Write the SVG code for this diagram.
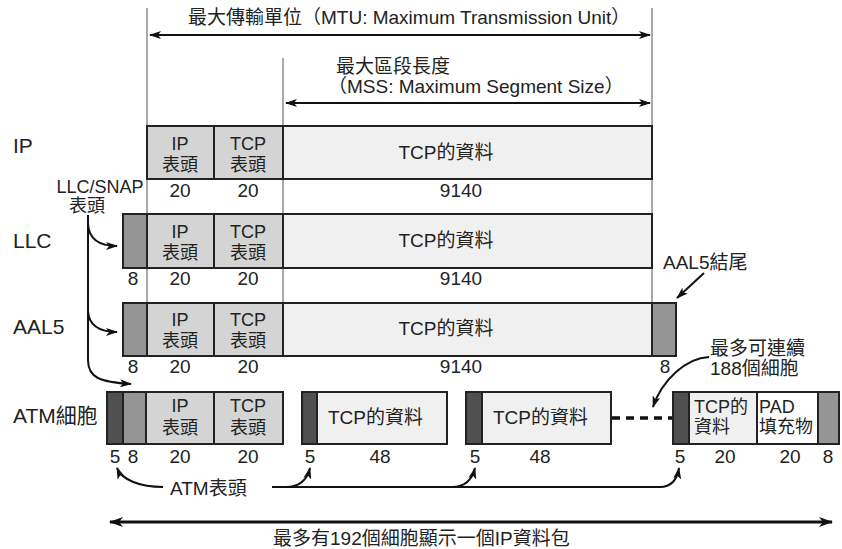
<svg xmlns="http://www.w3.org/2000/svg" width="842" height="549" viewBox="0 0 842 549">
<style>
text{font-family:"Liberation Sans","Noto Sans CJK TC",sans-serif;font-size:18px;fill:#222}
.lbl{font-size:21px}
.big{font-size:19px}
.num{font-size:19px}
.c{text-anchor:middle}
.box{stroke:#222;stroke-width:2}
.hdr{fill:#d4d4d4}
.dat{fill:#f0f0f0}
.dk{fill:#505050}
.md{fill:#959595}
.wh{fill:#fff}
.guide{stroke:#555;stroke-width:1;fill:none}
.ln{stroke:#111;stroke-width:2;fill:none}
</style>
<defs>
<marker id="ah" viewBox="0 0 12 8" refX="11" refY="4" markerWidth="12" markerHeight="8" markerUnits="userSpaceOnUse" orient="auto-start-reverse">
<path d="M0,0 L12,4 L0,8 L3,4 z" fill="#111"/>
</marker>
<marker id="ahb" viewBox="0 0 14 10" refX="13" refY="5" markerWidth="14" markerHeight="10" markerUnits="userSpaceOnUse" orient="auto-start-reverse">
<path d="M0,0 L14,5 L0,10 L4,5 z" fill="#111"/>
</marker>
</defs>

<g id="guides">
<line class="guide" x1="147" y1="8" x2="147" y2="304" stroke="#222"/>
<line class="guide" x1="283" y1="58" x2="283" y2="304"/>
<line class="guide" x1="652" y1="8" x2="652" y2="304"/>
</g>

<g id="mtu">
<text x="188" y="24" class="big">最大傳輸單位（MTU: Maximum Transmission Unit）</text>
</g>
<g id="mss">
<text x="336" y="73" class="big">最大區段長度</text>
<text x="328" y="93" class="big">（MSS: Maximum Segment Size）</text>
</g>

<g id="row-ip">
<text x="13" y="153" class="lbl">IP</text>
<rect class="box hdr" x="147" y="126" width="67" height="53"/>
<rect class="box hdr" x="214" y="126" width="69" height="53"/>
<rect class="box dat" x="283" y="126" width="369" height="53"/>
<text x="180" y="150" class="c">IP</text><text x="180" y="171" class="c">表頭</text>
<text x="248" y="150" class="c">TCP</text><text x="248" y="171" class="c">表頭</text>
<text x="446" y="159" class="c big">TCP的資料</text>
<text x="180" y="197" class="c num">20</text><text x="248" y="197" class="c num">20</text><text x="461" y="197" class="c num">9140</text>
</g>

<g id="llcsnap-label">
<text x="100" y="193" class="c">LLC/SNAP</text>
<text x="87" y="212" class="c">表頭</text>
</g>

<g id="row-llc">
<text x="13" y="248" class="lbl">LLC</text>
<rect class="box md" x="123" y="214" width="24" height="54"/>
<rect class="box hdr" x="147" y="214" width="67" height="54"/>
<rect class="box hdr" x="214" y="214" width="69" height="54"/>
<rect class="box dat" x="283" y="214" width="369" height="54"/>
<text x="180" y="238" class="c">IP</text><text x="180" y="259" class="c">表頭</text>
<text x="248" y="238" class="c">TCP</text><text x="248" y="259" class="c">表頭</text>
<text x="446" y="247" class="c big">TCP的資料</text>
<text x="133" y="285" class="c num">8</text><text x="180" y="285" class="c num">20</text><text x="248" y="285" class="c num">20</text><text x="461" y="285" class="c num">9140</text>
</g>

<g id="row-aal5">
<text x="13" y="334" class="lbl">AAL5</text>
<rect class="box md" x="123" y="303" width="24" height="53"/>
<rect class="box hdr" x="147" y="303" width="67" height="53"/>
<rect class="box hdr" x="214" y="303" width="69" height="53"/>
<rect class="box dat" x="283" y="303" width="369" height="53"/>
<rect class="box md" x="652" y="303" width="24" height="53"/>
<text x="180" y="326" class="c">IP</text><text x="180" y="347" class="c">表頭</text>
<text x="248" y="326" class="c">TCP</text><text x="248" y="347" class="c">表頭</text>
<text x="446" y="335" class="c big">TCP的資料</text>
<text x="133" y="373" class="c num">8</text><text x="180" y="373" class="c num">20</text><text x="248" y="373" class="c num">20</text><text x="461" y="373" class="c num">9140</text><text x="665" y="373" class="c num">8</text>
</g>

<g id="aal5-trailer-label">
<text x="663" y="269" class="big">AAL5結尾</text>
</g>
<g id="cells-label">
<text x="710" y="355" class="big">最多可連續</text>
<text x="710" y="375" class="big">188個細胞</text>
</g>

<g id="row-atm">
<text x="13" y="423" class="lbl">ATM細胞</text>
<rect class="box dk" x="107" y="392" width="16" height="52"/>
<rect class="box md" x="123" y="392" width="23" height="52"/>
<rect class="box hdr" x="146" y="392" width="68" height="52"/>
<rect class="box hdr" x="214" y="392" width="69" height="52"/>
<text x="180" y="412" class="c">IP</text><text x="180" y="434" class="c">表頭</text>
<text x="248" y="412" class="c">TCP</text><text x="248" y="434" class="c">表頭</text>
</g>
<g id="cell-2">
<rect class="box dk" x="302" y="392" width="15" height="52"/>
<rect class="box dat" x="317" y="392" width="130" height="52"/>
<text x="328" y="424" class="big">TCP的資料</text>
</g>
<g id="cell-3">
<rect class="box dk" x="466" y="392" width="16" height="52"/>
<rect class="box dat" x="482" y="392" width="129" height="52"/>
<text x="493" y="424" class="big">TCP的資料</text>
</g>
<g id="cell-last">
<rect class="box dk" x="673" y="392" width="16" height="52"/>
<rect class="box dat" x="689" y="392" width="68" height="52"/>
<rect class="box wh" x="757" y="392" width="61" height="52"/>
<rect class="box md" x="818" y="392" width="21" height="52"/>
<text x="694" y="413">TCP的</text><text x="694" y="433">資料</text>
<text x="759" y="413">PAD</text><text x="759" y="433">填充物</text>
</g>
<g id="atm-numbers">
<text x="115" y="463" class="c num">5</text><text x="133" y="463" class="c num">8</text><text x="180" y="463" class="c num">20</text><text x="248" y="463" class="c num">20</text>
<text x="310" y="463" class="c num">5</text><text x="380" y="463" class="c num">48</text>
<text x="475" y="463" class="c num">5</text><text x="540" y="463" class="c num">48</text>
<text x="680" y="463" class="c num">5</text><text x="725" y="463" class="c num">20</text><text x="790" y="463" class="c num">20</text><text x="828" y="463" class="c num">8</text>
</g>

<g id="atm-header-label">
<text x="170" y="495" class="big">ATM表頭</text>
</g>
<g id="total-label">
<text x="273" y="545" class="big">最多有192個細胞顯示一個IP資料包</text>
</g>

<g id="connectors">
<line class="ln" x1="150" y1="35" x2="650" y2="35" marker-start="url(#ah)" marker-end="url(#ah)"/>
<line class="ln" x1="286" y1="103" x2="650" y2="103" marker-start="url(#ah)" marker-end="url(#ah)"/>
<path class="ln" d="M88,215 V360 C88,378 100,382 131,384" marker-end="url(#ah)"/>
<path class="ln" d="M88,224 C89,240 100,246 117,246" marker-end="url(#ah)"/>
<path class="ln" d="M88,311 C89,326 100,332 117,332" marker-end="url(#ah)"/>
<path class="ln" d="M704,273 L677,298" marker-end="url(#ah)"/>
<path class="ln" d="M709,357 C686,358 662,380 653,407" marker-end="url(#ah)"/>
<line x1="612" y1="418" x2="672" y2="418" stroke="#111" stroke-width="3.5" stroke-dasharray="8,6"/>
<path class="ln" d="M163,487 C140,487 122,480 117,468" marker-end="url(#ah)"/>
<path class="ln" d="M272,487 H660 C671,487 677,480 679,468" marker-end="url(#ah)"/>
<path class="ln" d="M286,487 C300,487 307,480 310,468" marker-end="url(#ah)"/>
<path class="ln" d="M452,487 C465,487 472,480 475,468" marker-end="url(#ah)"/>
<line x1="110" y1="522" x2="832" y2="522" stroke="#111" stroke-width="3" marker-start="url(#ahb)" marker-end="url(#ahb)"/>
</g>
</svg>
